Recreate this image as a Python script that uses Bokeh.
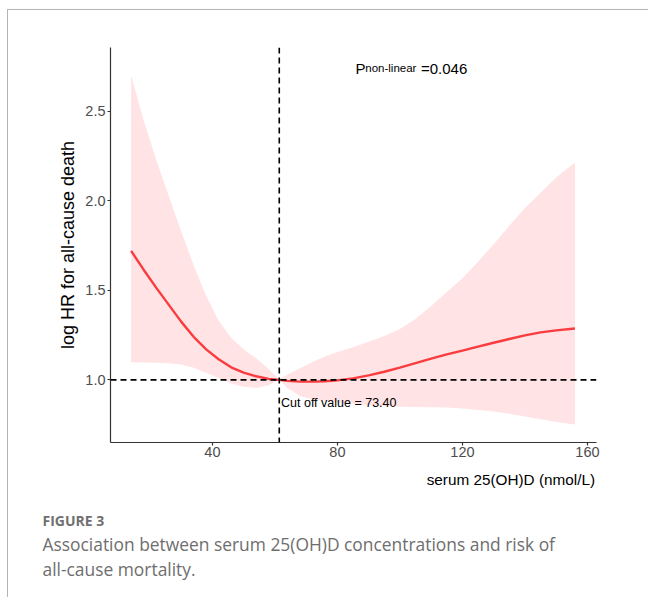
from bokeh.plotting import figure
from bokeh.models import Label, Span, FixedTicker, PrintfTickFormatter, Range1d
from bokeh.embed import file_html
from bokeh.resources import INLINE

# ---- data ----
vitd = [14, 18, 22, 26, 30, 34, 38, 42, 46, 50, 54, 58, 61.4, 64, 68, 72, 76, 80,
        85, 90, 95, 100, 105, 110, 115, 120, 125, 130, 135, 140, 145, 150, 156]
log_hr = [1.72, 1.615, 1.515, 1.42, 1.325, 1.24, 1.17, 1.115, 1.07, 1.04, 1.02, 1.005, 1.0,
          0.994, 0.99, 0.99, 0.992, 0.997, 1.008, 1.025, 1.045, 1.068, 1.093, 1.118, 1.142,
          1.163, 1.185, 1.207, 1.228, 1.248, 1.265, 1.276, 1.287]
upper = [2.70, 2.45, 2.23, 2.03, 1.83, 1.64, 1.47, 1.33, 1.235, 1.17, 1.12, 1.06, 1.0,
         1.03, 1.065, 1.10, 1.13, 1.155, 1.182, 1.212, 1.245, 1.284, 1.34, 1.412, 1.49,
         1.568, 1.66, 1.757, 1.86, 1.96, 2.045, 2.13, 2.214]
lower = [1.098, 1.097, 1.095, 1.092, 1.085, 1.068, 1.04, 1.01, 0.98, 0.962, 0.955, 0.97, 1.0,
         0.955, 0.91, 0.89, 0.883, 0.875, 0.866, 0.858, 0.853, 0.85, 0.848, 0.847, 0.845,
         0.84, 0.832, 0.823, 0.81, 0.795, 0.78, 0.765, 0.75]
cutoff_x = 61.4
ref_y = 1.0
x_ticks = [40, 80, 120, 160]
y_ticks = [1.0, 1.5, 2.0, 2.5]
p_text = ["P", "non-linear", "=0.046"]
cut_text = "Cut off value = 73.40"
x_title = "serum 25(OH)D (nmol/L)"
y_title = "log HR for all-cause death"
caption_head = "FIGURE 3"
caption_lines = ["Association between serum 25(OH)D concentrations and risk of",
                 "all-cause mortality."]

# ---- geometry (page pixels) ----
OX, OY = 8, 10            # where the framed panel starts on the page
W, H = 649 - OX, 598 - OY
FL, FR, FT, FB = 110, 596, 47, 442   # plot frame in page pixels
X0, X1 = 7.4, 162.9
Y0, Y1 = 0.650, 2.856


def px2x(px):
    return X0 + (px - FL) / (FR - FL) * (X1 - X0)


def px2y(py):
    return Y0 + (FB - py) / (FB - FT) * (Y1 - Y0)


p = figure(width=W, height=H, output_backend="svg", toolbar_location=None,
           x_range=Range1d(X0, X1), y_range=Range1d(Y0, Y1),
           min_border_left=FL - OX, min_border_right=W - (FR - OX),
           min_border_top=FT - OY, min_border_bottom=H - (FB - OY))
p.styles = {"margin-left": f"{OX - 1}px", "margin-top": f"{OY - 1}px",
            "border-top": "1px solid #b4b4b4", "border-left": "1px solid #b4b4b4"}
p.outline_line_color = None
p.grid.visible = False
p.background_fill_color = "white"
p.border_fill_color = "white"

FONT = "Liberation Sans"
for ax in (p.xaxis[0], p.yaxis[0]):
    ax.axis_line_color = "#333333"
    ax.axis_line_width = 1.2
    ax.major_tick_line_color = "#333333"
    ax.major_tick_line_width = 1.2
    ax.major_tick_out = 3
    ax.major_tick_in = 0
    ax.minor_tick_line_color = None
    ax.major_label_text_font = FONT
    ax.major_label_text_font_size = "14.5px"
    ax.major_label_text_color = "#4d4d4d"

p.xaxis[0].ticker = FixedTicker(ticks=x_ticks)
p.xaxis[0].major_label_standoff = 1
p.yaxis[0].ticker = FixedTicker(ticks=y_ticks)
p.yaxis[0].formatter = PrintfTickFormatter(format="%.1f")
p.yaxis[0].major_label_standoff = 2
p.yaxis[0].axis_label = y_title
p.yaxis[0].axis_label_text_font = FONT
p.yaxis[0].axis_label_text_font_size = "18px"
p.yaxis[0].axis_label_text_font_style = "normal"
p.yaxis[0].axis_label_text_color = "black"
p.yaxis[0].axis_label_standoff = 4

# band and fit line
p.varea(x=vitd, y1=lower, y2=upper, fill_color="#ffe3e5", fill_alpha=1.0)
p.line(vitd, log_hr, line_color="#fa3c3f", line_width=2.4)

# reference lines
p.add_layout(Span(location=cutoff_x, dimension="height", line_color="black",
                  line_width=1.6, line_dash="6 4"))
p.add_layout(Span(location=ref_y, dimension="width", line_color="black",
                  line_width=1.6, line_dash="6 4"))

# P non-linear annotation
p.add_layout(Label(x=px2x(355), y=px2y(67.5), text=p_text[0], text_font=FONT,
                   text_font_size="15px", text_color="black", text_baseline="alphabetic"))
p.add_layout(Label(x=px2x(364.8), y=px2y(67.5), text=p_text[1], text_font=FONT,
                   text_font_size="11.5px", text_color="black", text_baseline="alphabetic"))
p.add_layout(Label(x=px2x(420.5), y=px2y(67.5), text=p_text[2], text_font=FONT,
                   text_font_size="15px", text_color="black", text_baseline="alphabetic"))

# cut off label
p.add_layout(Label(x=px2x(280.5), y=px2y(402.5), text=cut_text, text_font=FONT,
                   text_font_size="12.5px", text_color="black", text_baseline="alphabetic"))

# x axis title and caption (placed in the bottom side panel so they are not clipped)
p.add_layout(Label(x=px2x(594.5), y=px2y(478.5), text=x_title, text_font=FONT,
                   text_font_size="15.3px", text_color="black", text_align="right",
                   text_baseline="alphabetic"), "below")

CAP_FONT = "Open Sans"
p.add_layout(Label(x=px2x(42), y=px2y(519.5), text=caption_head, text_font=CAP_FONT,
                   text_font_size="14px", text_font_style="bold", text_color="#707070",
                   text_baseline="alphabetic"), "below")
p.add_layout(Label(x=px2x(42), y=px2y(543), text=caption_lines[0], text_font=CAP_FONT,
                   text_font_size="17.4px", text_color="#6e6e6e", text_baseline="alphabetic"), "below")
p.add_layout(Label(x=px2x(42), y=px2y(568), text=caption_lines[1], text_font=CAP_FONT,
                   text_font_size="17.4px", text_color="#6e6e6e", text_baseline="alphabetic"), "below")

open("out.html", "w").write(file_html(p, INLINE))
